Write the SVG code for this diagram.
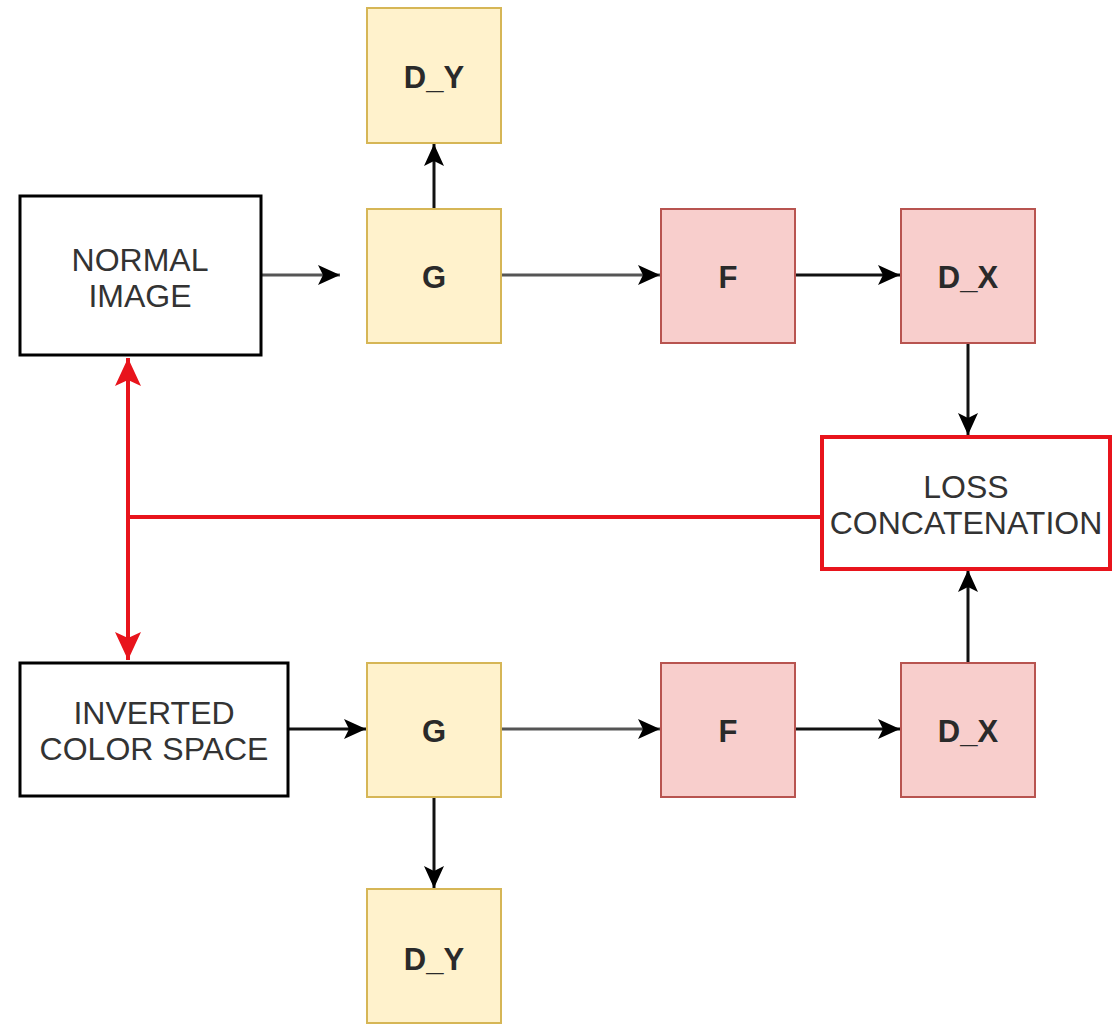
<svg xmlns="http://www.w3.org/2000/svg" width="1112" height="1025" viewBox="0 0 1112 1025">
  <style>
    .plain { fill: #ffffff; stroke: #000000; stroke-width: 3; }
    .gen { fill: #fff2cc; stroke: #d6b656; stroke-width: 2; }
    .disc { fill: #f8cecc; stroke: #b85450; stroke-width: 2; }
    .loss { fill: #ffffff; stroke: #e8141c; stroke-width: 4; }
    .lbl { font-family: "Liberation Sans", Arial, sans-serif; font-size: 32px; fill: #333333; text-anchor: middle; }
    .blk { font-family: "Liberation Sans", Arial, sans-serif; font-size: 31px; font-weight: bold; fill: #2a2a2a; text-anchor: middle; }
    .edge { fill: none; stroke: #111111; stroke-width: 3; }
    .edge.grey { stroke: #555555; }
    .red { fill: none; stroke: #e8141c; stroke-width: 4; }
  </style>
  <defs>
    <marker id="redArrow" viewBox="0 0 30 30" refX="28" refY="15" markerWidth="30" markerHeight="30" markerUnits="userSpaceOnUse" orient="auto-start-reverse">
      <path d="M0,2 L28,15 L0,28 L6,15 Z" fill="#e8141c"/>
    </marker>
    <marker id="blackArrow" viewBox="0 0 24 24" refX="22" refY="12" markerWidth="24" markerHeight="24" markerUnits="userSpaceOnUse" orient="auto">
      <path d="M0,2 L22,12 L0,22 L5,12 Z" fill="#000000"/>
    </marker>
  </defs>

  <rect width="1112" height="1025" fill="#ffffff"/>

  <!-- connectors -->
  <g id="connectors">
    <line class="edge grey" x1="262" y1="275" x2="340" y2="275" marker-end="url(#blackArrow)"/>
    <line class="edge grey" x1="502" y1="275" x2="660" y2="275" marker-end="url(#blackArrow)"/>
    <line class="edge" x1="796" y1="275" x2="900" y2="275" marker-end="url(#blackArrow)"/>
    <line class="edge" x1="434" y1="208" x2="434" y2="144" marker-end="url(#blackArrow)"/>
    <line class="edge" x1="968" y1="344" x2="968" y2="435" marker-end="url(#blackArrow)"/>

    <line class="edge" x1="289" y1="729" x2="366" y2="729" marker-end="url(#blackArrow)"/>
    <line class="edge grey" x1="502" y1="729" x2="660" y2="729" marker-end="url(#blackArrow)"/>
    <line class="edge" x1="796" y1="729" x2="900" y2="729" marker-end="url(#blackArrow)"/>
    <line class="edge" x1="434" y1="798" x2="434" y2="888" marker-end="url(#blackArrow)"/>
    <line class="edge" x1="968" y1="662" x2="968" y2="570" marker-end="url(#blackArrow)"/>

    <line class="red" x1="128" y1="358" x2="128" y2="660" marker-start="url(#redArrow)" marker-end="url(#redArrow)"/>
    <line class="red" x1="128" y1="517" x2="820" y2="517"/>
  </g>

  <!-- nodes -->
  <g id="normal-image">
    <rect class="plain" x="20" y="196" width="241" height="159"/>
    <text class="lbl" x="140" y="271">NORMAL</text>
    <text class="lbl" x="140" y="307">IMAGE</text>
  </g>
  <g id="dy-top">
    <rect class="gen" x="367" y="8" width="134" height="135"/>
    <text class="blk" x="434" y="88">D_Y</text>
  </g>
  <g id="g-top">
    <rect class="gen" x="367" y="209" width="134" height="134"/>
    <text class="blk" x="434" y="288">G</text>
  </g>
  <g id="f-top">
    <rect class="disc" x="661" y="209" width="134" height="134"/>
    <text class="blk" x="728" y="288">F</text>
  </g>
  <g id="dx-top">
    <rect class="disc" x="901" y="209" width="134" height="134"/>
    <text class="blk" x="968" y="288">D_X</text>
  </g>
  <g id="loss-concatenation">
    <rect class="loss" x="822" y="437" width="288" height="132"/>
    <text class="lbl" x="966" y="498">LOSS</text>
    <text class="lbl" x="966" y="534">CONCATENATION</text>
  </g>
  <g id="inverted-color-space">
    <rect class="plain" x="20" y="663" width="268" height="133"/>
    <text class="lbl" x="154" y="724">INVERTED</text>
    <text class="lbl" x="154" y="760">COLOR SPACE</text>
  </g>
  <g id="g-bottom">
    <rect class="gen" x="367" y="663" width="134" height="134"/>
    <text class="blk" x="434" y="742">G</text>
  </g>
  <g id="f-bottom">
    <rect class="disc" x="661" y="663" width="134" height="134"/>
    <text class="blk" x="728" y="742">F</text>
  </g>
  <g id="dx-bottom">
    <rect class="disc" x="901" y="663" width="134" height="134"/>
    <text class="blk" x="968" y="742">D_X</text>
  </g>
  <g id="dy-bottom">
    <rect class="gen" x="367" y="889" width="134" height="134"/>
    <text class="blk" x="434" y="970">D_Y</text>
  </g>
</svg>
